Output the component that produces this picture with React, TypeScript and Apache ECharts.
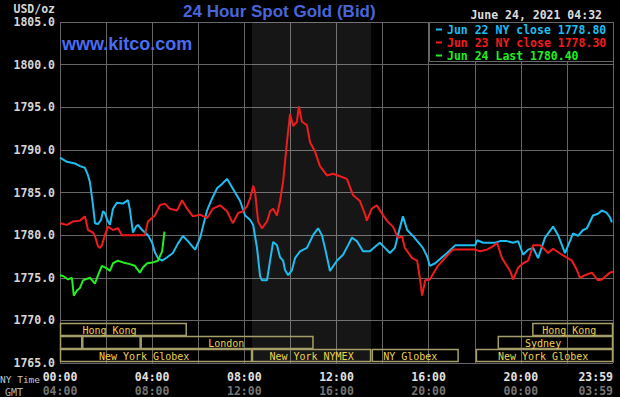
import React, { useEffect, useRef } from "react";
import * as echarts from "echarts";

// ---- data (time in minutes after 00:00 NY time, price in USD/oz) ----
const jun22: [number, number][] = [
  [0, 1789.1], [18, 1788.6], [39, 1788.4], [52, 1788.1], [65, 1787.9], [73, 1787.0], [78, 1786.2],
  [86, 1783.5], [91, 1781.4], [99, 1781.3], [107, 1781.8], [112, 1782.8], [117, 1782.6], [122, 1781.9],
  [130, 1781.2], [138, 1783.1], [148, 1783.8], [164, 1783.7], [177, 1784.1], [182, 1783.0], [190, 1780.3],
  [198, 1781.0], [203, 1781.2], [214, 1780.6], [221, 1780.3], [229, 1780.0], [240, 1779.1], [247, 1778.0],
  [255, 1777.3], [266, 1777.0], [279, 1777.4], [294, 1777.9], [307, 1779.0], [320, 1779.9], [333, 1779.3],
  [344, 1778.7], [352, 1778.3], [365, 1779.7], [375, 1781.5], [383, 1782.9], [396, 1784.3], [409, 1785.5],
  [422, 1786.0], [435, 1786.6], [443, 1786.0], [456, 1785.0], [469, 1784.0], [482, 1782.3], [495, 1781.8],
  [503, 1781.2], [513, 1778.5], [521, 1775.2], [526, 1774.7], [539, 1774.7], [547, 1777.0], [555, 1779.2],
  [565, 1778.8], [573, 1777.4], [581, 1777.0], [586, 1775.9], [594, 1775.3], [604, 1775.9], [612, 1777.3],
  [625, 1778.1], [643, 1778.5], [659, 1780.0], [672, 1780.8], [682, 1780.0], [690, 1778.5], [703, 1775.8],
  [721, 1777.0], [737, 1777.7], [750, 1778.8], [760, 1779.7], [773, 1779.3], [789, 1778.1], [807, 1778.1],
  [825, 1778.8], [833, 1779.1], [846, 1778.5], [859, 1777.9], [872, 1778.5], [880, 1780.0], [893, 1782.2],
  [904, 1780.6], [919, 1779.9], [932, 1779.2], [945, 1778.5], [956, 1777.5], [963, 1776.4], [977, 1776.7],
  [992, 1777.3], [1008, 1777.9], [1029, 1778.8], [1081, 1778.8], [1086, 1779.4], [1102, 1779.1],
  [1133, 1779.1], [1146, 1779.3], [1164, 1779.3], [1180, 1779.1], [1193, 1779.3], [1206, 1777.7],
  [1219, 1778.3], [1232, 1778.5], [1245, 1777.3], [1263, 1779.7], [1284, 1781.0], [1297, 1780.0],
  [1315, 1777.9], [1336, 1780.2], [1349, 1779.9], [1362, 1780.6], [1372, 1780.8], [1388, 1782.3],
  [1401, 1782.5], [1411, 1782.9], [1424, 1782.6], [1432, 1782.1], [1437, 1781.5],
];

const jun23: [number, number][] = [
  [0, 1781.4], [18, 1781.2], [34, 1781.6], [52, 1781.7], [65, 1782.2], [73, 1780.6], [86, 1780.3],
  [91, 1779.9], [99, 1778.7], [104, 1778.5], [109, 1778.8], [117, 1780.0], [125, 1781.0], [138, 1780.6],
  [151, 1780.8], [161, 1780.0], [221, 1780.0], [229, 1781.6], [247, 1782.3], [260, 1783.5], [273, 1783.7],
  [286, 1783.1], [305, 1782.9], [318, 1784.1], [331, 1783.1], [346, 1782.2], [365, 1782.4], [383, 1782.0],
  [398, 1783.1], [417, 1783.5], [435, 1782.8], [450, 1781.4], [464, 1782.6], [477, 1782.8], [487, 1783.4],
  [495, 1784.3], [503, 1785.8], [508, 1785.0], [516, 1781.6], [526, 1780.8], [539, 1781.6], [547, 1782.8],
  [555, 1783.1], [565, 1782.3], [573, 1784.0], [581, 1786.3], [591, 1790.9], [599, 1794.2], [607, 1792.8],
  [617, 1793.3], [622, 1795.1], [630, 1793.3], [643, 1792.9], [651, 1790.9], [664, 1789.8], [677, 1788.1],
  [695, 1787.0], [711, 1787.2], [729, 1786.9], [747, 1786.6], [763, 1784.7], [781, 1784.0], [794, 1782.5],
  [799, 1781.7], [812, 1783.1], [825, 1783.5], [833, 1782.9], [851, 1781.7], [867, 1781.0], [880, 1779.7],
  [891, 1779.8], [898, 1778.5], [917, 1777.3], [930, 1777.0], [937, 1775.0], [943, 1772.9], [951, 1774.7],
  [963, 1774.8], [984, 1776.4], [1010, 1777.7], [1023, 1778.3], [1081, 1778.3], [1094, 1778.1],
  [1112, 1778.3], [1128, 1778.7], [1138, 1779.1], [1151, 1777.3], [1172, 1775.8], [1180, 1774.8],
  [1193, 1776.2], [1206, 1776.7], [1219, 1777.0], [1232, 1778.8], [1250, 1778.8], [1258, 1778.5],
  [1271, 1777.9], [1284, 1778.4], [1307, 1777.7], [1333, 1777.0], [1346, 1775.9], [1354, 1775.0],
  [1367, 1775.3], [1385, 1775.6], [1401, 1774.7], [1411, 1774.8], [1432, 1775.6], [1440, 1775.7],
];

const jun24: [number, number][] = [
  [0, 1775.3], [8, 1775.2], [21, 1774.8], [31, 1775.0], [36, 1772.9], [44, 1773.5], [52, 1773.8],
  [60, 1774.7], [65, 1774.8], [78, 1775.0], [91, 1774.3], [99, 1775.3], [109, 1776.4], [122, 1776.1],
  [130, 1775.8], [138, 1776.7], [151, 1777.0], [164, 1776.8], [182, 1776.6], [195, 1776.4], [208, 1775.6],
  [216, 1776.2], [227, 1776.7], [242, 1776.8], [255, 1777.0], [266, 1778.1], [272, 1780.4],
];

const seriesNames = ["Jun 22 NY close 1778.80", "Jun 23 NY close 1778.30", "Jun 24 Last 1780.40"];

// trading sessions (minutes, NY time); row 1 = top row of the session band
const sessionNames = ["Hong Kong", "", "", "London", "New York Globex", "New York NYMEX", "NY Globex", "New York Globex", "Hong Kong", "Sydney"];
const sessionStart = [0, 0, 58, 210, 0, 500, 812, 1083, 1230, 1140];
const sessionEnd = [330, 58, 210, 660, 500, 810, 1038, 1440, 1440, 1440];
const sessionRow = [1, 2, 2, 2, 3, 3, 3, 3, 1, 2];
const sessionLabelAt = [129, 29, 134, 433, 219, 655, 912, 1258, 1326, 1258];

const nymexShade: [number, number] = [500, 810];

const yMin = 1765;
const yMax = 1805;
const yStep = 5;
const xMin = 0;
const xMax = 1440;
const xStep = 120;
const gmtOffsetMin = 240;

const chartTitle = "24 Hour Spot Gold (Bid)";
const siteText = "www.kitco.com";
const unitText = "USD/oz";
const dateText = "June 24, 2021 04:32";

// ---- styles ----
const COLORS = ["#1ebdf0", "#f01c1c", "#22ee22"];
const GRID = "#666666";
const MONO = '"DejaVu Sans Mono", "Liberation Mono", monospace';

const pad = (n: number) => (n < 10 ? "0" + n : "" + n);
const clock = (m: number) => {
  const mm = ((m % 1440) + 1440) % 1440;
  return pad(Math.floor(mm / 60)) + ":" + pad(mm % 60);
};

export default function App() {
  const ref = useRef<HTMLDivElement>(null);

  useEffect(() => {
    if (!ref.current) return;
    const chart = echarts.init(ref.current, null, { renderer: "svg" });

    const sessionData = sessionStart.map((s, i) => [s, yMin + 2, sessionEnd[i], sessionRow[i], sessionLabelAt[i], i]);

    const option: any = {
      animation: false,
      backgroundColor: "#000000",
      grid: { left: 60, right: 7, top: 22, bottom: 30, containLabel: false },
      xAxis: [
        {
          type: "value",
          min: xMin,
          max: xMax,
          interval: xStep,
          axisLine: { show: false },
          axisTick: { show: false },
          splitLine: { show: true, lineStyle: { color: GRID, width: 1 } },
          axisLabel: {
            formatter: (v: number) => (v % 240 === 0 ? clock(v >= 1440 ? 1439 : v) : ""),
            color: "#e2e2e2",
            fontFamily: MONO,
            fontWeight: "bold",
            fontSize: 11.5,
            margin: 8,
            alignMaxLabel: "right",
          },
        },
        {
          type: "value",
          min: xMin,
          max: xMax,
          interval: xStep,
          position: "bottom",
          offset: 14,
          axisLine: { show: false },
          axisTick: { show: false },
          splitLine: { show: false },
          axisLabel: {
            formatter: (v: number) => (v % 240 === 0 ? clock((v >= 1440 ? 1439 : v) + gmtOffsetMin) : ""),
            color: "#747474",
            fontFamily: MONO,
            fontWeight: "bold",
            fontSize: 11.5,
            margin: 8,
            alignMaxLabel: "right",
          },
        },
      ],
      yAxis: {
        type: "value",
        min: yMin,
        max: yMax,
        interval: yStep,
        axisLine: { show: false },
        axisTick: { show: false },
        splitLine: { show: true, lineStyle: { color: GRID, width: 1 } },
        axisLabel: {
          formatter: (v: number) => v.toFixed(1),
          color: "#d6d6d6",
          fontFamily: MONO,
          fontWeight: "bold",
          fontSize: 11.5,
          margin: 5,
        },
      },
      legend: {
        orient: "vertical",
        left: 436,
        top: 23.5,
        padding: 0,
        itemGap: 1,
        itemWidth: 6,
        itemHeight: 2,
        icon: "rect",
        selectedMode: false,
        z: 10,
        textStyle: { fontFamily: MONO, fontWeight: "bold", fontSize: 11.5, lineHeight: 11 },
        data: seriesNames.map((n, i) => ({ name: n, textStyle: { color: COLORS[i] } })),
      },
      graphic: [
        {
          type: "rect",
          z: 5,
          shape: { x: 429.5, y: 22.5, width: 184, height: 39 },
          style: { fill: "#000000", stroke: GRID, lineWidth: 1 },
        },
        {
          type: "text",
          z: 10,
          x: 183,
          y: 11.5,
          style: { text: chartTitle, fill: "#4766dc", font: 'bold 17px "Liberation Sans", Arial, sans-serif', verticalAlign: "middle", align: "left" },
        },
        {
          type: "text",
          z: 10,
          x: 62,
          y: 44,
          style: { text: siteText, fill: "#4b6cf2", font: 'bold 18px "Liberation Sans", Arial, sans-serif', verticalAlign: "middle", align: "left" },
        },
        {
          type: "text",
          z: 10,
          x: 55,
          y: 8.5,
          style: { text: unitText, fill: "#d6d6d6", font: "bold 11.5px " + MONO, verticalAlign: "middle", align: "right" },
        },
        {
          type: "text",
          z: 10,
          x: 602,
          y: 15,
          style: { text: dateText, fill: "#dcdcdc", font: "bold 11.5px " + MONO, verticalAlign: "middle", align: "right" },
        },
        {
          type: "text",
          z: 10,
          x: 0,
          y: 379,
          style: { text: "NY Time", fill: "#c8c8c8", font: "9.5px " + MONO, verticalAlign: "middle", align: "left" },
        },
        {
          type: "text",
          z: 10,
          x: 5,
          y: 392,
          style: { text: "GMT", fill: "#b4b4b4", font: "10px " + MONO, verticalAlign: "middle", align: "left" },
        },
      ],
      series: [
        {
          name: seriesNames[0],
          type: "line",
          data: jun22,
          color: COLORS[0],
          showSymbol: false,
          symbol: "none",
          lineStyle: { width: 2, color: COLORS[0] },
          z: 3,
          markArea: {
            silent: true,
            itemStyle: { color: "rgba(255,255,255,0.085)" },
            data: [[{ xAxis: nymexShade[0] }, { xAxis: nymexShade[1] }]],
          },
        },
        {
          name: seriesNames[1],
          type: "line",
          data: jun23,
          color: COLORS[1],
          showSymbol: false,
          symbol: "none",
          lineStyle: { width: 2, color: COLORS[1] },
          z: 4,
        },
        {
          name: seriesNames[2],
          type: "line",
          data: jun24,
          color: COLORS[2],
          showSymbol: false,
          symbol: "none",
          lineStyle: { width: 2, color: COLORS[2] },
          z: 5,
        },
        {
          type: "custom",
          name: "sessions",
          silent: true,
          clip: false,
          z: 2,
          encode: { x: [0, 2], y: 1 },
          data: sessionData,
          renderItem: (params: any, api: any) => {
            const s = api.value(0);
            const e = api.value(2);
            const row = api.value(3);
            const la = api.value(4);
            const idx = api.value(5);
            const p0 = api.coord([s, yMin]);
            const p1 = api.coord([e, yMin]);
            const rowH = 13;
            const top = p0[1] - 1 - (4 - row) * rowH;
            const lx = api.coord([la, yMin])[0];
            return {
              type: "group",
              children: [
                {
                  type: "rect",
                  shape: { x: p0[0] + 0.5, y: top + 0.5, width: p1[0] - p0[0] - 1, height: rowH - 1 },
                  style: { fill: "none", stroke: "#a59e68", lineWidth: 1.5 },
                },
                {
                  type: "text",
                  style: {
                    text: sessionNames[idx],
                    x: lx,
                    y: top + rowH / 2 + 0.5,
                    align: "center",
                    verticalAlign: "middle",
                    fill: "#f0d24c",
                    font: "10px " + MONO,
                  },
                },
              ],
            };
          },
        },
      ],
    };

    chart.setOption(option);
    return () => chart.dispose();
  }, []);

  return (
    <div
      ref={ref}
      style={{ position: "absolute", left: 0, top: 0, width: 620, height: 397, background: "#000" }}
    />
  );
}
